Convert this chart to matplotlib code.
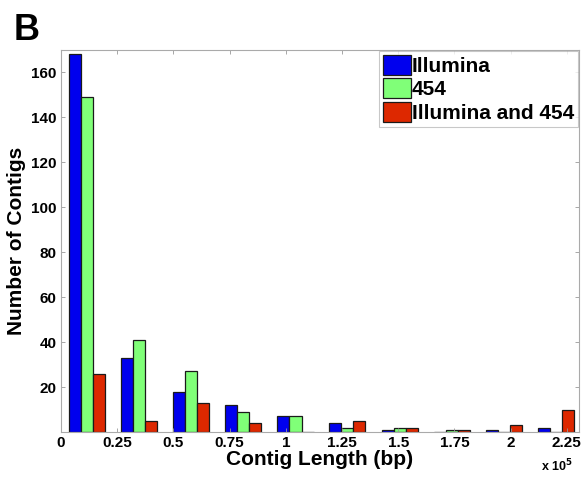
import numpy as np
import matplotlib
matplotlib.use("Agg")
import matplotlib.pyplot as plt

# Data (x in units of 1e5 bp)
bin_centers = [0.116, 0.348, 0.579, 0.811, 1.043, 1.274, 1.506, 1.738, 1.970, 2.201]
illumina = [168, 33, 18, 12, 7, 4, 1, 0, 1, 2]
s454 = [149, 41, 27, 9, 7, 2, 2, 1, 0, 0]
both = [26, 5, 13, 4, 0, 5, 2, 1, 3, 10]
series_names = ["Illumina", "454", "Illumina and 454"]
xtick_vals = [0, 0.25, 0.5, 0.75, 1, 1.25, 1.5, 1.75, 2, 2.25]
xtick_labels = ["0", "0.25", "0.5", "0.75", "1", "1.25", "1.5", "1.75", "2", "2.25"]
ytick_vals = [20, 40, 60, 80, 100, 120, 140, 160]

plt.rcParams['font.family'] = ['Liberation Sans', 'DejaVu Sans']
plt.rcParams['font.weight'] = 'bold'

fig = plt.figure(figsize=(5.81, 4.83), dpi=100)
ax = fig.add_axes([61/581, 1-432/483, (579-61)/581, (432-50)/483])

colors = ["#0000ee", "#80ff78", "#dd2800"]
w = 0.0535
x = np.array(bin_centers)
for i, (vals, c, name) in enumerate(zip([illumina, s454, both], colors, series_names)):
    ax.bar(x + (i-1)*w, vals, width=w, color=c, edgecolor="#1a1a1a", linewidth=0.9, label=name)

ax.set_xlim(0, 2.304)
ax.set_ylim(0, 170)
ax.set_xticks(xtick_vals)
ax.set_xticklabels(xtick_labels, fontsize=11, fontweight='bold')
ax.set_yticks(ytick_vals)
ax.set_yticklabels([str(v) for v in ytick_vals], fontsize=11, fontweight='bold')
ax.tick_params(direction='in', top=True, right=True, length=3, color='#999999', width=0.6, pad=3)
for sp in ax.spines.values():
    sp.set_color('#aaaaaa')
    sp.set_linewidth(0.8)

ax.set_xlabel("Contig Length (bp)", fontsize=15, fontweight='bold', labelpad=0)
ax.set_ylabel("Number of Contigs", fontsize=15, fontweight='bold', labelpad=4)

leg = ax.legend(loc='upper right', fontsize=15, frameon=True, fancybox=False,
                borderpad=0.2, labelspacing=0.1, handlelength=1.3, handleheight=1.1,
                handletextpad=0.05, borderaxespad=0.05)
leg.get_frame().set_edgecolor('#bbbbbb')
leg.get_frame().set_linewidth(0.8)
for t in leg.get_texts():
    t.set_fontweight('bold')

fig.text(14/581, 1-40/483, "B", fontsize=26, fontweight='bold', ha='left', va='baseline')
fig.text(541/581, 1-471/483, r"x 10$^{\mathbf{5}}$", fontsize=9, fontweight='bold', ha='left', va='baseline')

fig.savefig("out.png", dpi=100)
